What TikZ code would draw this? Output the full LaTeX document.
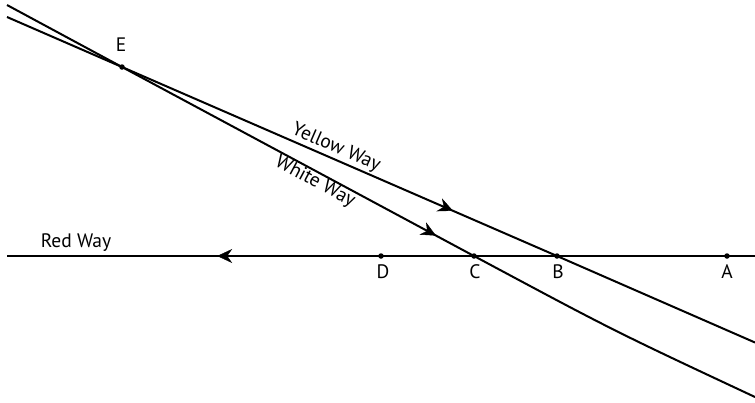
\documentclass[tikz,border=0pt]{standalone}
\usepackage{fontspec}
\setmainfont{PT Sans}
\usetikzlibrary{arrows.meta,decorations.markings}
\tikzset{
  way/.style={line width=2pt},
  pdot/.style={circle,fill=black,inner sep=0pt,minimum size=5.5pt},
  lbl/.style={font=\fontsize{19.5}{21}\selectfont,inner sep=0pt},
  midarrow/.style={postaction={decorate},decoration={markings,
    mark=at position #1 with {\arrow{Stealth[length=15pt,width=14pt,inset=5pt]}}}}
}
\begin{document}
\begin{tikzpicture}[x=1pt,y=-1pt]
\useasboundingbox (0,0) rectangle (755,402);
% points
\node[pdot] (E) at (122,67) {};
\node[pdot] (D) at (381,256) {};
\node[pdot] (C) at (474,256) {};
\node[pdot] (B) at (557,256) {};
\node[pdot] (A) at (727,256) {};
\coordinate (R0) at (7,256);
\coordinate (R1) at (755,256);
\coordinate (Y0) at (7,17);
\coordinate (Y1) at (755,342.5);
\coordinate (W0) at (7,5);
\coordinate (W1) at (755,397);
\coordinate (Wc) at (614,331);
% lines
\draw[way] (R0) -- (R1);
\path[midarrow=0.719] (R1) -- (R0);
\draw[way] (Y0) -- (E.center) -- (B.center) -- (Y1);
\path[midarrow=0.761] (E.center) -- (B.center);
\draw[way] (W0) -- (E.center) -- (C.center) .. controls (Wc) .. (W1);
\path[midarrow=0.892] (E.center) -- (C.center);
% labels
\node[lbl] (lE) at (121,45) {E};
\node[lbl] (lD) at (383,272) {D};
\node[lbl] (lC) at (475,272) {C};
\node[lbl] (lB) at (558,272) {B};
\node[lbl] (lA) at (727,272) {A};
\node[lbl] (lR) at (76,243) {Red Way};
\node[lbl,rotate=-23.5] (lY) at (336,148) {Yellow Way};
\node[lbl,rotate=-28.2] (lW) at (315,182) {White Way};
\end{tikzpicture}
\end{document}
